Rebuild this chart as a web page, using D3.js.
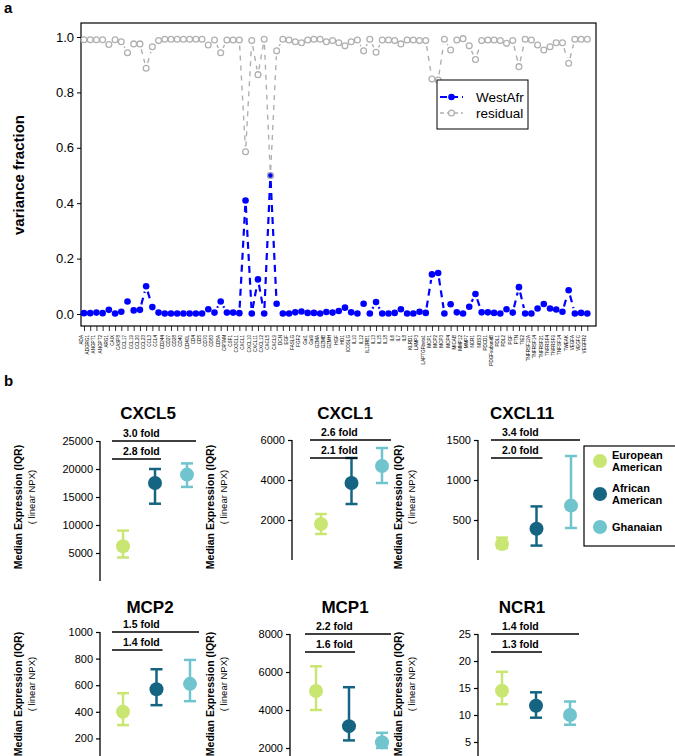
<!DOCTYPE html>
<html><head><meta charset="utf-8">
<script src="https://cdn.jsdelivr.net/npm/d3@7"></script>
<style>body{margin:0;background:#fff;} text{font-family:"Liberation Sans",Arial,sans-serif;}</style>
</head><body>
<svg id="c" width="675" height="756"></svg>
<script>
// ---------- Panel a data ----------
const proteins = ["ADA","ADGRG1","ANGPT1","ANGPT2","ARG1","CAIX","CASP8","CCL17","CCL19","CCL20","CCL23","CCL3","CCL4","CD244","CD27","CD28","CD40","CD40L","CD4","CD5","CD70","CD83","CD8A","CRTAM","CSF1","CX3CL1",
"CXCL1","CXCL10","CXCL11","CXCL12","CXCL5","CXCL9","DCN","EGF","FASLG","FGF2","Gal1","Gal9","GZMA","GZMB","GZMH","HGF","HO1","ICOSLG","IL10","IL12","IL12RB1","IL13","IL15","IL18","IL6","IL7","IL8","KLRD1","LAMP3","LAPTGFbeta1",
"MCP1","MCP2","MCP3","MCP4","MICAB","MMP12","MMP7","NCR1","NOS3","PDCD1","PDGFsubunitB","PDL1","PDL2","PGF","PTN","TIE2","TNFRSF12A","TNFRSF14","TNFRSF21","TNFRSF4","TNFRSF9","TNFSF14","TWEAK","VEGFA","VEGFC","VEGFR2"];
const westAfr = [0.003,0.003,0.005,0.003,0.015,0.002,0.008,0.045,0.013,0.015,0.100,0.025,0.005,0.002,0.002,0.002,0.002,0.002,0.002,0.002,0.017,0.005,0.045,0.005,0.005,0.003,
0.410,0.002,0.125,0.002,0.500,0.037,0.002,0.002,0.006,0.009,0.004,0.004,0.002,0.007,0.005,0.011,0.023,0.006,0.002,0.037,0.002,0.043,0.002,0.002,0.004,0.017,0.002,0.002,0.008,0.004,
0.143,0.148,0.002,0.035,0.006,0.002,0.026,0.072,0.006,0.006,0.004,0.002,0.017,0.005,0.097,0.002,0.002,0.020,0.036,0.020,0.016,0.008,0.086,0.002,0.004,0.002];
const residual = [0.990,0.990,0.990,0.990,0.973,0.990,0.983,0.943,0.975,0.975,0.887,0.965,0.987,0.992,0.992,0.992,0.992,0.992,0.992,0.992,0.971,0.989,0.943,0.989,0.989,0.989,
0.586,0.987,0.864,0.992,0.500,0.950,0.992,0.989,0.983,0.979,0.989,0.992,0.992,0.983,0.987,0.979,0.968,0.983,0.989,0.950,0.992,0.945,0.989,0.989,0.987,0.975,0.989,0.989,0.987,0.987,
0.848,0.845,0.992,0.953,0.989,0.994,0.968,0.919,0.987,0.989,0.989,0.987,0.977,0.987,0.893,0.992,0.989,0.971,0.953,0.965,0.979,0.979,0.905,0.992,0.992,0.992];
const yTicksA = [0, 0.2, 0.4, 0.6, 0.8, 1.0];
const seriesNames = ["WestAfr","residual"];

// ---------- Panel b data ----------
const groups = ["European American","African American","Ghanaian"];
const markers = ["CXCL5","CXCL1","CXCL11","MCP2","MCP1","NCR1"];
const medians = [[6200,17500,19000],[1800,3850,4700],[200,390,680],[400,570,610],[5000,3150,2300],[14.5,11.7,10.0]];
const q1s     = [[4200,13800,16800],[1300,2800,3850],[150,180,400],[300,450,480],[4000,2400,2000],[12.0,9.5,8.2]];
const q3s     = [[9000,20000,21000],[2300,5100,5600],[280,670,1300],[540,720,790],[6300,5200,2800],[18.0,14.2,12.5]];
const yTicksB = [[5000,10000,15000,20000,25000],[2000,4000,6000],[500,1000,1500],[200,400,600,800,1000],[2000,4000,6000,8000],[5,10,15,20,25]];
const foldTop = ["3.0 fold","2.6 fold","3.4 fold","1.5 fold","2.2 fold","1.4 fold"];
const foldMid = ["2.8 fold","2.1 fold","2.0 fold","1.4 fold","1.6 fold","1.3 fold"];

// ---------- styles / layout ----------
const blue = "#0000ff", grey = "#b0b0b0";
const groupColors = ["#c9e673","#156582","#70c4cd"];
const svg = d3.select("#c");

// ===== Panel a =====
const box = {l:81, r:596, t:23, b:326};
const x = d3.scalePoint().domain(proteins).range([84, 587.3]);
const y = d3.scaleLinear().domain([0,1]).range([314, 37]);

svg.append("text").attr("x",4).attr("y",13).attr("font-size",15).attr("font-weight","bold").text("a");

const gA = svg.append("g");
gA.append("rect").attr("x",box.l).attr("y",box.t).attr("width",box.r-box.l).attr("height",box.b-box.t)
  .attr("fill","none").attr("stroke","#000").attr("stroke-width",1.2);

const yAx = gA.append("g").attr("transform",`translate(${box.l},0)`)
  .call(d3.axisLeft(y).tickValues(yTicksA).tickFormat(d3.format(".1f")).tickSize(4).tickPadding(3));
yAx.select(".domain").remove();
yAx.selectAll("text").attr("font-size",13).attr("font-family","Liberation Sans, Arial, sans-serif");
yAx.selectAll("line").attr("stroke-width",1);

svg.append("text").attr("transform","translate(24,175) rotate(-90)").attr("text-anchor","middle")
  .attr("font-size",15).attr("font-weight","bold").text("variance fraction");

const xAx = gA.append("g").attr("transform",`translate(0,${box.b})`)
  .call(d3.axisBottom(x).tickSize(5).tickPadding(2));
xAx.select(".domain").remove();
xAx.selectAll("line").attr("stroke-width",0.8);
xAx.selectAll("text").attr("font-size",4.6).attr("text-anchor","end")
  .attr("transform","translate(-1.6,9) rotate(-90)").attr("dy",0).attr("y",0).attr("x",0)
  .attr("font-family","Liberation Sans, Arial, sans-serif");

function gappedSegments(vals, gap){
  const segs=[];
  for(let i=0;i<vals.length-1;i++){
    const x0=x(proteins[i]), y0=y(vals[i]), x1=x(proteins[i+1]), y1=y(vals[i+1]);
    const dx=x1-x0, dy=y1-y0, L=Math.hypot(dx,dy);
    if(L>2*gap+1){
      const f=gap/L;
      segs.push([x0+dx*f, y0+dy*f, x1-dx*f, y1-dy*f]);
    }
  }
  return segs;
}
function drawSeries(vals, color, width, dash, filled){
  gA.append("g").selectAll("line").data(gappedSegments(vals,5.5)).join("line")
    .attr("x1",d=>d[0]).attr("y1",d=>d[1]).attr("x2",d=>d[2]).attr("y2",d=>d[3])
    .attr("stroke",color).attr("stroke-width",width).attr("stroke-dasharray",dash);
  gA.append("g").selectAll("circle").data(vals).join("circle")
    .attr("cx",(d,i)=>x(proteins[i])).attr("cy",d=>y(d)).attr("r",filled?3.3:2.9)
    .attr("fill",filled?color:"none").attr("stroke",color).attr("stroke-width",filled?0:1.3);
}
drawSeries(westAfr, blue, 2.2, "7,5", true);
drawSeries(residual, grey, 1.4, "5,5", false);

const lg = svg.append("g");
lg.append("rect").attr("x",437).attr("y",80).attr("width",91).attr("height",49).attr("fill","#fff").attr("stroke","#000").attr("stroke-width",1);
[[seriesNames[0],blue,true,97],[seriesNames[1],grey,false,113]].forEach(([name,c,f,yy])=>{
  lg.append("line").attr("x1",440).attr("x2",463).attr("y1",yy).attr("y2",yy).attr("stroke",c).attr("stroke-width",f?2.2:1.4).attr("stroke-dasharray",f?"7,4":"4,3");
  lg.append("circle").attr("cx",451.5).attr("cy",yy).attr("r",f?3.3:2.9).attr("fill",f?c:"#fff").attr("stroke",c).attr("stroke-width",f?0:1.3);
  lg.append("text").attr("x",476).attr("y",yy+5).attr("font-size",13.5).text(name);
});

// ===== Panel b =====
svg.append("text").attr("x",4).attr("y",386).attr("font-size",15).attr("font-weight","bold").text("b");

const plots = [
  {ax:100, top:441, zero:581, xs:[123,187], tx:148, ty:419, lab:22, cy:507},
  {ax:292, top:440, zero:560, xs:[321,382], tx:345, ty:419, lab:214, cy:507},
  {ax:478, top:440, zero:560, xs:[502,571], tx:522, ty:419, lab:402, cy:507},
  {ax:100, top:632, zero:765, xs:[123,190], tx:150, ty:613, lab:22, cy:694},
  {ax:290, top:634, zero:786, xs:[316,382], tx:345, ty:613, lab:214, cy:694},
  {ax:478, top:634, zero:769, xs:[502,570], tx:522, ty:613, lab:402, cy:694},
];
plots.forEach((p,k)=>{
  const g = svg.append("g");
  const ys = d3.scaleLinear().domain([0, d3.max(yTicksB[k])]).range([p.zero, p.top]);
  const xs = d3.scaleLinear().domain([0,2]).range(p.xs);
  const ax = g.append("g").attr("transform",`translate(${p.ax},0)`)
    .call(d3.axisLeft(ys).tickValues(yTicksB[k]).tickFormat(d3.format("d")).tickSize(4).tickPadding(3).tickSizeOuter(0));
  ax.select(".domain").attr("d",`M0,${p.top}V${Math.min(p.zero,756)}`).attr("stroke-width",1.3);
  ax.selectAll("text").attr("font-size",11).attr("font-family","Liberation Sans, Arial, sans-serif");
  ax.selectAll("line").attr("stroke-width",1.2);
  g.append("text").attr("x",p.tx).attr("y",p.ty).attr("text-anchor","middle").attr("font-size",17).attr("font-weight","bold").text(markers[k]);
  g.append("text").attr("transform",`translate(${p.lab},${p.cy}) rotate(-90)`).attr("text-anchor","middle")
    .attr("font-size",10.5).attr("font-weight","bold").text("Median Expression  (IQR)");
  g.append("text").attr("transform",`translate(${p.lab+13},${p.cy-10}) rotate(-90)`).attr("text-anchor","middle")
    .attr("font-size",9.5).text("( linear NPX)");
  groups.forEach((gn,j)=>{
    const cx = xs(j);
    g.append("line").attr("x1",cx).attr("x2",cx).attr("y1",ys(q1s[k][j])).attr("y2",ys(q3s[k][j])).attr("stroke",groupColors[j]).attr("stroke-width",2.5);
    [q1s[k][j],q3s[k][j]].forEach(v=>g.append("line").attr("x1",cx-6).attr("x2",cx+6).attr("y1",ys(v)).attr("y2",ys(v)).attr("stroke",groupColors[j]).attr("stroke-width",2.5));
    g.append("circle").attr("cx",cx).attr("cy",ys(medians[k][j])).attr("r",7).attr("fill",groupColors[j]);
  });
  const bx0 = xs(0)-11;
  [[foldTop[k], xs(2)+9, p.top], [foldMid[k], xs(1)+6, p.top+18]].forEach(([t,bx1,by])=>{
    g.append("line").attr("x1",bx0).attr("x2",bx1).attr("y1",by).attr("y2",by).attr("stroke","#000").attr("stroke-width",1.6);
    g.append("text").attr("x",bx0+11).attr("y",by-4).attr("font-size",10.5).attr("font-weight","bold").text(t);
  });
});

// legend b: long labels wrapped onto two lines so they stay inside the page
const lb = svg.append("g");
lb.append("rect").attr("x",584).attr("y",446).attr("width",100).attr("height",100).attr("fill","none").attr("stroke","#000").attr("stroke-width",1.2);
groups.forEach((gn,j)=>{
  const cy = 461+j*33;
  lb.append("circle").attr("cx",600).attr("cy",cy).attr("r",7).attr("fill",groupColors[j]);
  const words = gn.split(" ");
  const t = lb.append("text").attr("x",612).attr("font-size",11).attr("font-weight","bold");
  const lh = 11.5;
  const y0 = cy + 4 - (words.length-1)*lh/2;
  words.forEach((w,i)=>t.append("tspan").attr("x",612).attr("y",y0+i*lh).text(w));
});
</script>
</body></html>
